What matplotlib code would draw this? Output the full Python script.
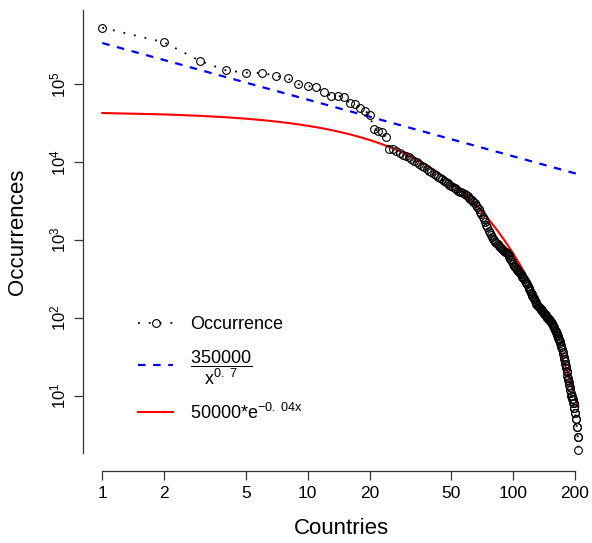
import numpy as np
import matplotlib
matplotlib.use("Agg")
import matplotlib.pyplot as plt
from matplotlib.ticker import FixedLocator, FixedFormatter, NullLocator

plt.rcParams['font.family'] = ['Liberation Sans', 'DejaVu Sans']
plt.rcParams['mathtext.fontset'] = 'custom'
plt.rcParams['mathtext.rm'] = 'Liberation Sans'
plt.rcParams['mathtext.it'] = 'Liberation Sans'
plt.rcParams['mathtext.default'] = 'regular'

# occurrences per country, sorted by rank
occurrences = [
    533000, 346000, 199000, 151000, 141000, 140000, 128000, 119000, 100000, 95000,
    91000, 79600, 70800, 70500, 69300, 57000, 55400, 50100, 45800, 40900,
    26400, 25400, 24400, 21000, 14800,
    14600, 13900, 13200, 12500, 12100, 11600, 11000, 10500, 10000, 9500,
    9000, 8600, 8200, 7700, 7400, 7100, 6800, 6500, 6250, 6000,
    5800, 5550, 5350, 5150,
    4950, 4780, 4620, 4470, 4320, 4190, 4090, 4000, 3910, 3810, 3650, 3500, 3360, 3230,
    3100, 2950, 2800, 2650, 2500, 2320, 2150, 1990, 1840, 1700, 1580,
    1480, 1300, 1220, 1160, 1100, 1040, 990, 950, 910, 880, 850, 820, 790, 770, 745,
    725, 710, 695, 680,
    660, 640, 610, 580, 550, 520, 490, 470, 455, 440,
    425, 412, 400, 388, 376, 362, 350, 338, 326, 314,
    302, 292, 282, 270, 258, 246, 234, 223, 212, 202,
    194, 188, 181, 173, 166, 159, 152, 147, 142,
    139, 137, 134, 131, 128, 125, 122, 119, 116, 113, 111, 108, 105, 103, 101, 99, 97, 95, 94,
    92, 89, 87, 84, 82, 79, 77, 74, 71, 69, 66, 64,
    61, 59, 56, 54, 52, 50, 48, 45, 43,
    40, 37, 35, 32, 30, 28, 26,
    24, 23, 21, 20, 18, 17, 16,
    15, 14, 13, 12, 11, 10, 10,
    9, 9, 8, 8, 7, 7, 6, 6, 5, 5, 4, 4, 3, 3, 2,
]
ranks = np.arange(1, len(occurrences) + 1)

# fitted curves (as drawn)
pow_a, pow_k = 339000, 0.727
exp_a, exp_b = 44630, 0.0419

x_ticks = [1, 2, 5, 10, 20, 50, 100, 200]
y_ticks = [10, 100, 1000, 10000, 100000]
y_labels = [r'$10^{1}$', r'$10^{2}$', r'$10^{3}$', r'$10^{4}$', r'$10^{5}$']

W, H = 592, 543
fig = plt.figure(figsize=(W / 100, H / 100), dpi=100)
ax = fig.add_axes([83.3 / W, 72 / H, (W - 83.3) / W, (471 - 10) / H])

ax.plot(ranks, occurrences, color='black', ls=(0, (1, 5)), lw=1.3,
        marker='o', ms=5.6, mfc='none', mec='black', mew=0.8,
        label='Occurrence', zorder=3)
ax.plot(ranks, pow_a / ranks ** pow_k, color='#0000ee', ls=(0, (3.4, 3.4)), lw=1.6,
        label=r'$\dfrac{350000}{x^{0.\ 7}}$')
ax.plot(ranks, exp_a * np.exp(-exp_b * ranks), color='#ff0000', lw=1.5,
        label=r'$50000{*}e^{-0.\ 04x}$')

ax.set_xscale('log')
ax.set_yscale('log')
ax.set_xlim(0.808, 242.2)
ax.set_ylim(1.086, 899000)

ax.xaxis.set_major_locator(FixedLocator(x_ticks))
ax.xaxis.set_major_formatter(FixedFormatter([str(v) for v in x_ticks]))
ax.xaxis.set_minor_locator(NullLocator())
ax.yaxis.set_major_locator(FixedLocator(y_ticks))
ax.yaxis.set_major_formatter(FixedFormatter(y_labels))
ax.yaxis.set_minor_locator(NullLocator())

for s in ['top', 'right']:
    ax.spines[s].set_visible(False)
ax.spines['bottom'].set_bounds(1, 200)
ax.spines['left'].set_bounds(1.85, 899000)
for s in ['bottom', 'left']:
    ax.spines[s].set_color('#333333')
    ax.spines[s].set_linewidth(0.9)

ax.tick_params(axis='x', length=6.5, width=0.9, color='#333333', labelsize=12.5, pad=4)
ax.tick_params(axis='y', length=6.5, width=0.9, color='#333333', labelsize=12, pad=4,
               labelrotation=90)
for lab in ax.get_yticklabels():
    lab.set_va('center')

fig.text(341 / W, 1 - 528 / H, 'Countries', fontsize=16, ha='center', va='center')
fig.text(18 / W, 1 - 232 / H, 'Occurrences', fontsize=16, ha='center', va='center',
         rotation=90)

ax.legend(loc='upper left', bbox_to_anchor=(138 / W, 1 - 316 / H),
          bbox_transform=fig.transFigure, frameon=False, fontsize=13,
          handlelength=1.95, handletextpad=0.95, labelspacing=0.85,
          borderpad=0, borderaxespad=0)

fig.savefig('out.png', dpi=100)
